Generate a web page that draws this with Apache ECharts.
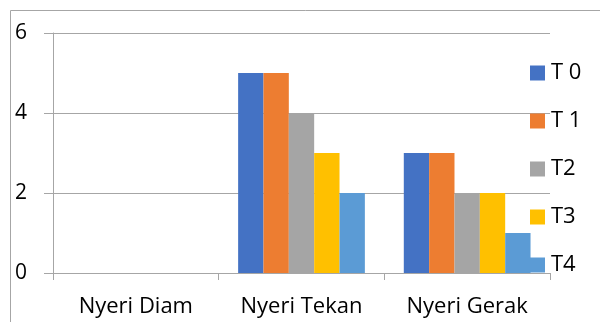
<!DOCTYPE html>
<html>
<head>
<meta charset="utf-8">
<script src="https://cdn.jsdelivr.net/npm/echarts@6/dist/echarts.min.js"></script>
<style>
html,body{margin:0;padding:0;background:#fff;}
#chart{width:600px;height:322px;}
</style>
</head>
<body>
<div id="chart"></div>
<script>
const categories = ["Nyeri Diam", "Nyeri Tekan", "Nyeri Gerak"];
const seriesNames = ["T 0", "T 1", "T2", "T3", "T4"];
const t0 = [0, 5, 3];
const t1 = [0, 5, 3];
const t2 = [0, 4, 2];
const t3 = [0, 3, 2];
const t4 = [0, 2, 1];
const yTicks = [0, 2, 4, 6];
const colors = ["#4472C4", "#ED7D31", "#A5A5A5", "#FFC000", "#5B9BD5"];

const allData = [t0, t1, t2, t3, t4];
const FONT = "Open Sans";
const gray = "#A6A6A6";

const chart = echarts.init(document.getElementById('chart'), null, {renderer: 'canvas'});
chart.setOption({
  animation: false,
  color: colors,
  textStyle: {fontFamily: FONT},
  graphic: [{
    type: 'rect',
    shape: {x: 10.5, y: 10.5, width: 700, height: 400},
    style: {fill: 'none', stroke: gray, lineWidth: 1},
    silent: true,
    z: -1
  }],
  grid: {left: 53, right: 50, top: 33, bottom: 49},
  legend: {
    orient: 'vertical',
    left: 530,
    top: 62,
    padding: 0,
    itemWidth: 15,
    itemHeight: 15,
    itemGap: 26,
    icon: 'rect',
    data: seriesNames,
    textStyle: {fontFamily: FONT, fontSize: 22, lineHeight: 22, color: '#000', padding: [0, 0, 0, 1]}
  },
  xAxis: {
    type: 'category',
    data: categories,
    axisLine: {show: true, lineStyle: {color: gray, width: 1}},
    axisTick: {show: true, length: 7, alignWithLabel: false, lineStyle: {color: gray}},
    axisLabel: {fontFamily: FONT, fontSize: 22, color: '#000', margin: 23, interval: 0, hideOverlap: false}
  },
  yAxis: {
    type: 'value',
    min: yTicks[0],
    max: yTicks[yTicks.length - 1],
    interval: 2,
    axisLine: {show: true, lineStyle: {color: gray, width: 1}},
    axisTick: {show: true, length: 9, lineStyle: {color: gray}},
    splitLine: {show: true, lineStyle: {color: gray, width: 1}},
    axisLabel: {fontFamily: FONT, fontSize: 21, color: '#000', margin: 26}
  },
  series: seriesNames.map((name, i) => ({
    name: name,
    type: 'bar',
    data: allData[i],
    barGap: '0%',
    barCategoryGap: '23.5%',
    itemStyle: {color: colors[i]}
  }))
});
</script>
</body>
</html>
